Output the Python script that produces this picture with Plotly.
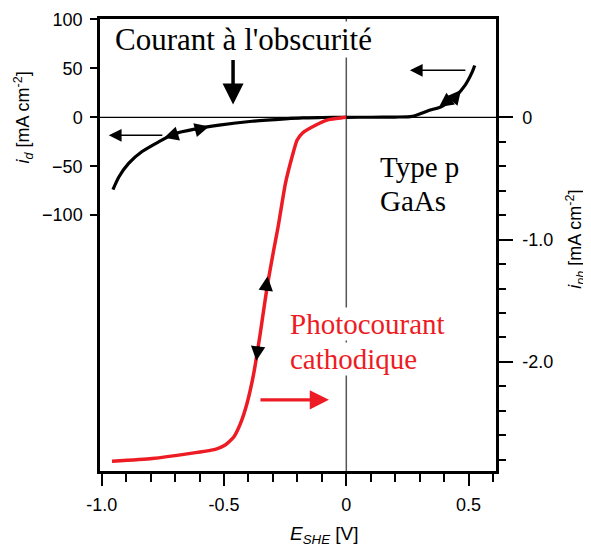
import numpy as np
import plotly.graph_objects as go

# courant d'obscurité, axe gauche [mA cm-2]
dark_E = [-0.954, -0.93, -0.89, -0.835, -0.767, -0.70, -0.62, -0.52, -0.385, -0.25,
          -0.18, -0.10, 0.0, 0.10, 0.20, 0.27, 0.337, 0.39, 0.445, 0.486, 0.514, 0.525]
dark_i = [-73.8, -61, -47, -35, -25, -16.5, -12, -8, -4, -1.5,
          -0.5, -0.2, 0, 0.1, 0.3, 1.0, 7, 11, 21, 33, 46, 53]

# photocourant, axe droit [mA cm-2]
photo_E = [-0.958, -0.794, -0.644, -0.536, -0.495, -0.46, -0.433, -0.406, -0.379, -0.352,
           -0.324, -0.297, -0.279, -0.249, -0.222, -0.2015, -0.18, -0.126, -0.072, -0.018, 0.0]
photo_i = [-2.813, -2.79, -2.75, -2.715, -2.68, -2.614, -2.505, -2.34, -2.10, -1.77,
           -1.39, -1.087, -0.897, -0.542, -0.325, -0.188, -0.13, -0.065, -0.019, -0.004, 0.0]

x_ticks = [-1.0, -0.5, 0, 0.5]
x_ticktext = ["-1.0", "-0.5", "0", "0.5"]
yl_ticks = [100, 50, 0, -50, -100]
yr_ticks = [0, -1.0, -2.0]
yr_ticktext = ["0", "-1.0", "-2.0"]

RED = "#ED1C24"
SERIF = "Liberation Serif"
SANS = "Liberation Sans"

fig = go.Figure()
fig.add_trace(go.Scatter(x=photo_E, y=photo_i, yaxis="y2", mode="lines",
                         line=dict(color=RED, width=3.5, shape="spline", smoothing=0.5),
                         hoverinfo="skip"))
fig.add_trace(go.Scatter(x=dark_E, y=dark_i, mode="lines",
                         line=dict(color="black", width=3.2, shape="spline", smoothing=0.6),
                         hoverinfo="skip"))

# lignes du zéro
fig.add_shape(type="line", xref="x", yref="paper", x0=0, x1=0, y0=0, y1=1,
              line=dict(color="#555555", width=1.5), layer="below")
fig.add_shape(type="line", xref="paper", yref="y", x0=0, x1=1, y0=0, y1=0,
              line=dict(color="black", width=1.2), layer="below")


def arrow(x, y, ax, ay, yref="y", color="black", width=1.5, size=1.5, head=2):
    fig.add_annotation(x=x, y=y, xref="x", yref=yref, ax=ax, ay=ay, text="",
                       showarrow=True, arrowhead=head, arrowwidth=width,
                       arrowsize=size, arrowcolor=color)


def label(text, x, y, yref="y", color="black", size=29, bg="white"):
    fig.add_annotation(x=x, y=y, xref="x", yref=yref, text=text, showarrow=False,
                       xanchor="left", yanchor="middle", bgcolor=bg, borderpad=0,
                       font=dict(family=SERIF, size=size, color=color))


# flèches
arrow(-0.463, 13, 0, -46, width=3.5, size=1.2)
arrow(-0.971, -18.4, 55, 0, width=1.5, size=1.7)
arrow(0.26, 48, 57, 0, width=1.5, size=1.7)
arrow(-0.071, -2.31, -70, 0, yref="y2", color=RED, width=3.2, size=1.2)
# têtes de flèche le long des courbes
arrow(-0.745, -21, 16, -5, width=1.8, size=1.6)
arrow(-0.561, -9.5, -16, 4, width=1.8, size=1.6)
arrow(0.379, 10.5, 11, -8, width=1.8, size=1.6)
arrow(0.469, 28, -9, 11, width=1.8, size=1.6)
arrow(-0.322, -1.3, -2, 16, yref="y2", width=1.8, size=1.6)
arrow(-0.368, -1.99, 2, -16, yref="y2", width=1.8, size=1.6)

# textes
label("Courant à l'obscurité", -0.95, 80, size=31)
label("Type p", 0.133, -50.5, bg="rgba(0,0,0,0)")
label("GaAs", 0.133, -85.5, bg="rgba(0,0,0,0)")
label("Photocourant", -0.234, -1.69, yref="y2", color=RED)
label("cathodique", -0.234, -1.975, yref="y2", color=RED)

# titres des axes
fig.add_annotation(text="<i>i<sub>d</sub></i> [mA cm<sup>-2</sup>]", textangle=-90,
                   xref="paper", x=-0.194, yref="y", y=0, showarrow=False,
                   xanchor="center", yanchor="middle",
                   font=dict(family=SANS, size=18, color="black"))
fig.add_annotation(text="<i>i<sub>ph</sub></i> [mA cm<sup>-2</sup>]", textangle=-90,
                   xref="paper", x=1.2, yref="y2", y=-1.0, showarrow=False,
                   xanchor="center", yanchor="middle",
                   font=dict(family=SANS, size=18, color="black"))
fig.add_annotation(text="<i>E<sub>SHE</sub></i> [V]",
                   xref="x", x=-0.09, yref="paper", y=-0.1416, showarrow=False,
                   xanchor="center", yanchor="middle",
                   font=dict(family=SANS, size=19, color="black"))

axis_common = dict(showline=True, linecolor="black", linewidth=2.5, showgrid=False,
                   zeroline=False, ticks="outside", tickcolor="black", tickwidth=2,
                   automargin=False,
                   tickfont=dict(family=SANS, size=18, color="black"))

# la page ajoute une marge de 8 px autour de la figure
fig.update_layout(
    width=583, height=541,
    margin=dict(l=92, r=95, t=11, b=78, autoexpand=False),
    plot_bgcolor="white", paper_bgcolor="white",
    showlegend=False,
    xaxis=dict(range=[-1.007, 0.612], tickvals=x_ticks, ticktext=x_ticktext,
               ticklen=12, mirror=True, ticklabelstandoff=4,
               minor=dict(dtick=0.1, tick0=0, ticks="outside", ticklen=8,
                          tickwidth=2, tickcolor="black"),
               **axis_common),
    yaxis=dict(range=[-361.5, 100.5], tickvals=yl_ticks, ticklen=7,
               ticklabelstandoff=4, **axis_common),
    yaxis2=dict(range=[-2.892, 0.804], overlaying="y", side="right",
                tickvals=yr_ticks, ticktext=yr_ticktext, ticklen=14,
                ticklabelstandoff=6,
                minor=dict(tickvals=list(np.round(np.arange(-0.2, -2.9, -0.2), 1)),
                           ticks="outside", ticklen=7, tickwidth=2,
                           tickcolor="black"),
                **axis_common),
)

fig.write_html("out.html")
